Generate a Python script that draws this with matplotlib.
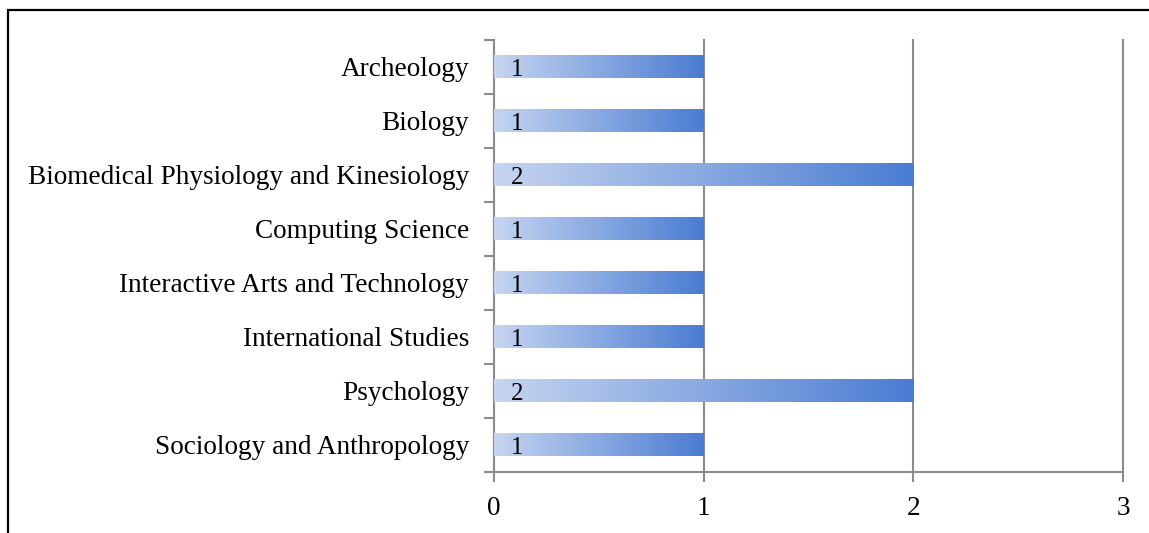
import numpy as np
import matplotlib.pyplot as plt
from matplotlib.colors import LinearSegmentedColormap
from matplotlib.patches import Rectangle

departments = [
    "Archeology",
    "Biology",
    "Biomedical Physiology and Kinesiology",
    "Computing Science",
    "Interactive Arts and Technology",
    "International Studies",
    "Psychology",
    "Sociology and Anthropology",
]
counts = [1, 1, 2, 1, 1, 1, 2, 1]
xticks = [0, 1, 2, 3]

plt.rcParams['font.family'] = ['Liberation Serif', 'DejaVu Serif']
FS = 19.6

fig = plt.figure(figsize=(11.49, 5.33), dpi=100)
W, H = 1149, 533
ax = fig.add_axes([494 / W, 1 - 472 / H, (1123 - 494) / W, (472 - 40) / H])

# outer frame (cut off on right and bottom like the reference)
fig.patches.append(Rectangle((8 / W, -0.05), 1.1, 1 - 10 / H + 0.05, transform=fig.transFigure,
                             fill=False, edgecolor='black', linewidth=1.6))

grad = LinearSegmentedColormap.from_list('bar', ['#c6d5f0', '#4a7cd2'])
gradient = np.linspace(0, 1, 256).reshape(1, -1)

y = np.arange(len(departments))[::-1]
bar_h = 0.42
bars = ax.barh(y, counts, height=bar_h, color='none', edgecolor='none', zorder=3)
for bar, val in zip(bars, counts):
    x0, y0 = bar.get_x(), bar.get_y()
    ax.imshow(gradient, cmap=grad, aspect='auto', zorder=3,
              extent=(x0, x0 + bar.get_width(), y0, y0 + bar.get_height()))
    ax.annotate(str(val), (0, y0), xytext=(23.5, 2.5),
                textcoords='offset pixels', ha='center', va='baseline',
                fontsize=18, color='black', zorder=4)

ax.set_xlim(0, 3)
ax.set_ylim(-0.5, len(departments) - 0.5)
ax.set_xticks(xticks)
ax.set_xticklabels([str(t) for t in xticks], fontsize=FS)
ax.set_yticks(y)
ax.set_yticklabels(departments, fontsize=FS)
ax.set_yticks(np.arange(len(departments) + 1) - 0.5, minor=True)

ax.grid(axis='x', color='#8c8c8c', linewidth=1.5, zorder=1)
for gl in ax.get_xgridlines():
    gl.set_clip_on(False)
ax.set_axisbelow(True)
for s in ['top', 'right']:
    ax.spines[s].set_visible(False)
for s in ['left', 'bottom']:
    ax.spines[s].set_color('#8c8c8c')
    ax.spines[s].set_linewidth(1.5)

ax.tick_params(axis='y', which='major', length=0, pad=18)
ax.tick_params(axis='y', which='minor', length=7, width=1.5, color='#8c8c8c')
ax.tick_params(axis='x', length=7, width=1.5, color='#8c8c8c', pad=10)

fig.savefig('out.png', dpi=100)
